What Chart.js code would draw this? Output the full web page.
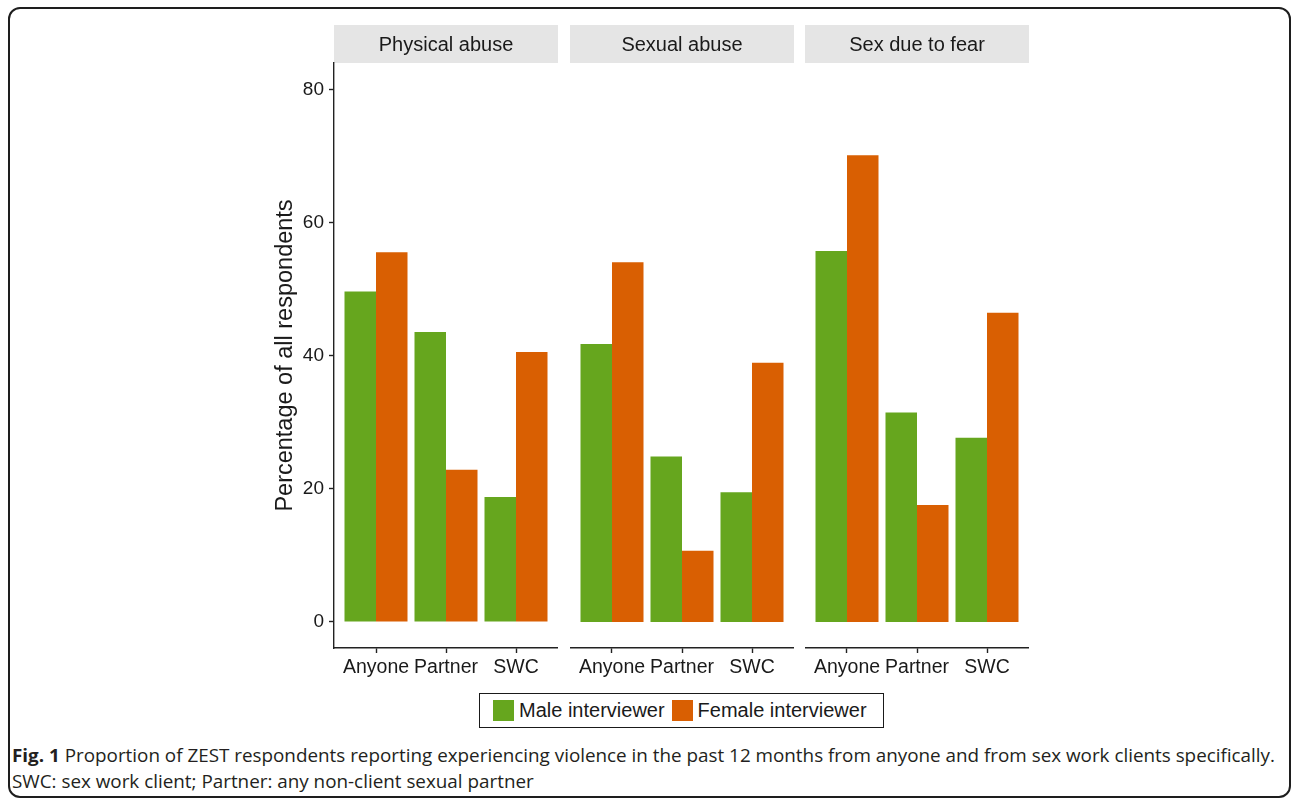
<!DOCTYPE html>
<html>
<head>
<meta charset="utf-8">
<title>Violence reported by interviewer sex</title>
<script src="https://cdn.jsdelivr.net/npm/chart.js@4.4.1/dist/chart.umd.min.js"></script>
<style>
  html, body { margin: 0; padding: 0; background: #ffffff; }
  body { width: 1292px; height: 799px; position: relative; overflow: hidden;
         font-family: "Liberation Sans", Arial, sans-serif; }
  .frame { position: absolute; left: 8px; top: 7px; width: 1283px; height: 791px;
           border: 2px solid #1e1e1e; border-radius: 12px; box-sizing: border-box; }
  canvas { position: absolute; top: 0; }
  #legend { position: absolute; left: 479px; top: 693px; width: 405px; height: 35px;
            border: 1.5px solid #1a1a1a; box-sizing: border-box; display: flex; align-items: center;
            padding-left: 13px; font-size: 20px; color: #1a1a1a; }
  #legend .item { display: flex; align-items: center; margin-right: 7px; white-space: nowrap; }
  #legend .key { width: 21px; height: 21px; margin-right: 5px; }
  #caption { position: absolute; left: 12px; top: 742px; font-family: "Open Sans", sans-serif;
             font-size: 18px; color: #231f20; line-height: 26px; }
  #caption .line { display: block; white-space: nowrap; transform-origin: 0 0; width: max-content; }
</style>
</head>
<body>
<div class="frame"></div>
<canvas id="panel0"></canvas>
<canvas id="panel1"></canvas>
<canvas id="panel2"></canvas>
<div id="legend"></div>
<div id="caption">
  <span class="line"><b>Fig. 1</b> Proportion of ZEST respondents reporting experiencing violence in the past 12 months from anyone and from sex work clients specifically.</span>
  <span class="line">SWC: sex work client; Partner: any non-client sexual partner</span>
</div>
<script>
// ---- data ----
const panelTitles = ['Physical abuse', 'Sexual abuse', 'Sex due to fear'];
const categories = ['Anyone', 'Partner', 'SWC'];
const seriesNames = ['Male interviewer', 'Female interviewer'];
const physicalMale = [49.7, 43.6, 18.8];
const physicalFemale = [55.6, 22.9, 40.6];
const sexualMale = [41.8, 24.9, 19.5];
const sexualFemale = [54.1, 10.7, 39.0];
const fearMale = [55.8, 31.5, 27.7];
const fearFemale = [70.2, 17.6, 46.5];
const yTicks = [0, 20, 40, 60, 80];
const yTitle = 'Percentage of all respondents';

// ---- styling / layout ----
const seriesColors = ['#66a61e', '#d95f02'];
const FONT = '"Liberation Sans", Arial, sans-serif';
const INK = '#1a1a1a';
const LINE = '#222222';
const panelData = [
  [physicalMale, physicalFemale],
  [sexualMale, sexualFemale],
  [fearMale, fearFemale]
];
// page placement of each facet canvas; the first one also carries the y axis
const panelBoxes = [
  { left: 250, width: 308, axisWidth: 84 },
  { left: 570, width: 224, axisWidth: 0 },
  { left: 805, width: 224, axisWidth: 0 }
];
const CANVAS_H = 688;     // chart area spans y = 63 .. 648
const PLOT_TOP = 63;
const X_AXIS_H = 40;
const Y_MIN = -3.91, Y_MAX = 84.06;

// grey facet strip above each chart area
const stripPlugin = {
  id: 'facetStrip',
  beforeDraw(chart, args, opts) {
    const { ctx, chartArea: a } = chart;
    ctx.save();
    ctx.fillStyle = '#e5e5e5';
    ctx.fillRect(a.left, a.top - 38, a.right - a.left, 38);
    ctx.fillStyle = INK;
    ctx.font = '20px ' + FONT;
    ctx.textAlign = 'center';
    ctx.textBaseline = 'middle';
    ctx.fillText(opts.text, (a.left + a.right) / 2, a.top - 17.6);
    ctx.restore();
  }
};

function makePanel(idx) {
  const box = panelBoxes[idx];
  const cv = document.getElementById('panel' + idx);
  cv.width = box.width; cv.height = CANVAS_H;
  cv.style.left = box.left + 'px';
  cv.style.width = box.width + 'px'; cv.style.height = CANVAS_H + 'px';
  const showY = idx === 0;

  const datasets = seriesNames.map((name, s) => ({
    label: name,
    data: panelData[idx][s].map((v, i) => ({ x: i, y: v })),
    backgroundColor: seriesColors[s],
    borderWidth: 0,
    categoryPercentage: 0.9,
    barPercentage: 1.0
  }));

  return new Chart(cv, {
    type: 'bar',
    data: { datasets },
    plugins: [stripPlugin],
    options: {
      responsive: false,
      animation: false,
      devicePixelRatio: 1,
      layout: { padding: { top: PLOT_TOP, left: 0, right: 0, bottom: 0 } },
      plugins: {
        legend: { display: false },
        tooltip: { enabled: false },
        facetStrip: { text: panelTitles[idx] }
      },
      scales: {
        x: {
          type: 'linear',
          min: -0.6, max: 2.6,
          offset: false,
          afterBuildTicks: s => { s.ticks = categories.map((c, i) => ({ value: i })); },
          afterFit: s => { s.height = X_AXIS_H; },
          ticks: {
            callback: (v, i) => categories[i],
            font: { family: FONT, size: 19.5 },
            color: INK, padding: 3, maxRotation: 0, minRotation: 0, autoSkip: false
          },
          grid: { display: true, drawOnChartArea: false, drawTicks: true, tickLength: 5,
                  tickColor: LINE, tickWidth: 1.4, offset: false },
          border: { display: true, color: LINE, width: 1.4 }
        },
        y: {
          display: showY,
          min: Y_MIN, max: Y_MAX,
          afterBuildTicks: s => { s.ticks = yTicks.map(v => ({ value: v })); },
          afterFit: s => { s.width = box.axisWidth; },
          ticks: { font: { family: FONT, size: 19 }, color: INK, padding: 5 },
          grid: { display: true, drawOnChartArea: false, drawTicks: true, tickLength: 5,
                  tickColor: LINE, tickWidth: 1.4 },
          border: { display: true, color: LINE, width: 1.4 },
          title: { display: true, text: yTitle, color: INK,
                   font: { family: FONT, size: 23.5 }, padding: { top: 21, bottom: 0 } }
        }
      }
    }
  });
}

const charts = panelTitles.map((t, i) => makePanel(i));

// legend built from the first chart's datasets
const legendEl = document.getElementById('legend');
charts[0].data.datasets.forEach(ds => {
  const item = document.createElement('div');
  item.className = 'item';
  const key = document.createElement('span');
  key.className = 'key';
  key.style.background = ds.backgroundColor;
  const txt = document.createElement('span');
  txt.textContent = ds.label;
  item.appendChild(key); item.appendChild(txt);
  legendEl.appendChild(item);
});

// condense the caption so the first line fills the figure width
const lines = document.querySelectorAll('#caption .line');
const natural = lines[0].getBoundingClientRect().width;
const sx = 1263 / natural;
lines.forEach(l => { l.style.transform = 'scaleX(' + sx + ')'; });
</script>
</body>
</html>
